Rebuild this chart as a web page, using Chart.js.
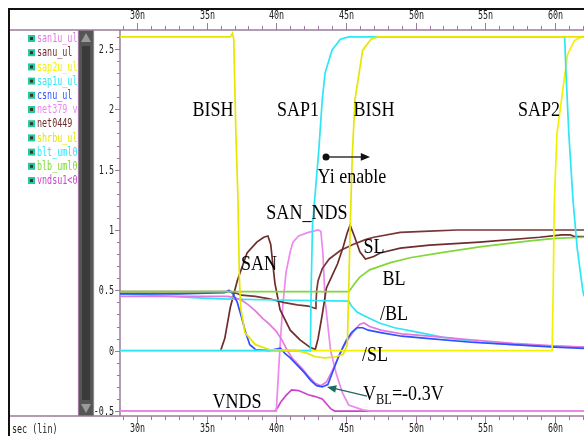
<!DOCTYPE html>
<html>
<head>
<meta charset="utf-8">
<title>Sense amp waveforms</title>
<script src="https://cdn.jsdelivr.net/npm/chart.js@4.4.1/dist/chart.umd.min.js"></script>
<style>
    html, body { margin: 0; padding: 0; background: #ffffff; }
    #wrap { width: 584px; height: 436px; }
</style>
</head>
<body>
<div id="wrap"><canvas id="wave" width="584" height="436"></canvas></div>
<script>
// ==================== DATA ====================

// time in ns, voltage in V
const bishWave = [[28.78, 2.6], [36.7, 2.6], [36.85, 2.63], [36.95, 2.58], [37.0, 2.3], [37.1, 1.8], [37.25, 1.25],
    [37.35, 0.6], [37.45, 0.35], [37.75, 0.15], [38.5, 0.05], [39.5, 0.01], [41.5, 0.0], [42.2, -0.02], [42.8, -0.05],
    [43.5, -0.06], [44.3, -0.05], [44.8, -0.03], [45.1, 0.05], [45.2, 0.5], [45.3, 1.0], [45.45, 1.6], [45.65, 2.08],
    [46.2, 2.49], [46.8, 2.58], [47.3, 2.6], [62.1, 2.6]];

const sap2Wave = [[28.78, 0], [59.8, 0], [59.88, 0.5], [59.95, 1.2], [60.15, 1.8], [60.5, 2.1], [60.9, 2.45],
    [61.4, 2.57], [61.9, 2.6], [62.1, 2.6]];

const sap1Wave = [[28.78, 0], [42.45, 0], [42.5, 0.5], [42.6, 1.04], [43.05, 1.66], [43.3, 2.08], [43.5, 2.3],
    [44.0, 2.49], [44.6, 2.58], [45.2, 2.6], [60.7, 2.6], [60.8, 2.3], [61.0, 1.8], [61.3, 1.25], [61.6, 0.85],
    [62.0, 0.5], [62.1, 0.45]];

const bltWave = [[28.78, 0.47], [31, 0.46], [34, 0.44], [36, 0.43], [40, 0.42], [45.2, 0.41], [45.4, 0.37],
    [45.8, 0.32], [46.3, 0.29], [47.4, 0.23], [48.5, 0.19], [50.3, 0.15], [52, 0.11], [54.6, 0.07], [57, 0.05],
    [59, 0.04], [62.1, 0.03]];

const blbWave = [[28.78, 0.49], [45.2, 0.49], [45.4, 0.52], [45.65, 0.56], [46.0, 0.61], [46.7, 0.67], [48.2, 0.73],
    [49.6, 0.77], [51.75, 0.81], [54.6, 0.86], [58.2, 0.91], [60, 0.93], [62.1, 0.94]];

const sanuWave = [[36.0, 0.0], [36.3, 0.1], [36.7, 0.36], [37.2, 0.58], [37.9, 0.81], [38.6, 0.9], [39.1, 0.94],
    [39.4, 0.95], [39.6, 0.88], [39.75, 0.72], [39.9, 0.56], [40.27, 0.34], [41.0, 0.17], [41.7, 0.09], [42.4, 0.03],
    [42.8, 0.01], [43.0, 0.1], [43.3, 0.3], [43.6, 0.52], [44.0, 0.62], [44.4, 0.72], [44.8, 0.86], [45.1, 0.98],
    [45.3, 1.04], [45.6, 0.95], [46.0, 0.82], [46.4, 0.76], [47.0, 0.78], [47.45, 0.81], [48.9, 0.85], [51, 0.875],
    [54.6, 0.9], [58.9, 0.94], [60.5, 0.96], [61.1, 0.96], [61.4, 0.945], [62.1, 0.945]];

const net0449Wave = [[28.78, 0.49], [36.8, 0.49], [37.5, 0.46], [38.5, 0.45], [39.5, 0.43], [40.5, 0.4], [41.5, 0.38],
    [42.3, 0.37], [42.8, 0.35], [42.85, 0.4], [42.9, 0.5], [43.0, 0.58], [43.3, 0.68], [43.8, 0.76], [44.6, 0.83],
    [45.5, 0.88], [46.4, 0.92], [47, 0.94], [48.9, 0.98], [51, 0.99], [53, 1.0], [62.1, 1.0]];

const net379Wave = [[28.78, -0.5], [40.0, -0.5], [40.1, -0.3], [40.25, 0.0], [40.45, 0.35], [40.7, 0.65], [41.0, 0.82],
    [41.2, 0.9], [41.6, 0.95], [42.3, 0.98], [43.0, 1.0], [43.2, 0.99], [43.35, 0.8], [43.5, 0.42], [43.9, 0.0],
    [44.3, -0.19], [44.75, -0.35], [45.2, -0.45], [46.2, -0.49], [46.8, -0.5], [62.1, -0.5]];

const san1uWave = [[28.78, 0.45], [36.5, 0.45], [37.0, 0.44], [37.5, 0.42], [38.0, 0.38], [38.5, 0.33], [39.0, 0.27],
    [39.5, 0.22], [40.0, 0.16], [40.4, 0.09], [40.8, 0.0], [41.2, -0.07], [41.8, -0.14], [42.3, -0.21], [42.8, -0.27],
    [43.2, -0.29], [43.6, -0.26], [44.0, -0.17], [44.4, -0.07], [44.8, 0.03], [45.2, 0.1], [45.6, 0.17], [46.0, 0.22],
    [46.3, 0.23], [46.7, 0.2], [47.5, 0.17], [49, 0.14], [51, 0.12], [54, 0.09], [57, 0.06], [60, 0.04], [62.1, 0.03]];

const csnuWave = [[28.78, 0.47], [33, 0.47], [36.3, 0.48], [36.6, 0.5], [36.9, 0.47], [37.2, 0.4], [37.5, 0.28],
    [37.8, 0.15], [38.1, 0.05], [38.5, 0.01], [39.5, 0.0], [40.3, 0.02], [40.6, -0.02], [41.0, -0.06], [41.5, -0.12],
    [42.0, -0.18], [42.5, -0.25], [42.9, -0.29], [43.3, -0.3], [43.7, -0.28], [44.1, -0.16], [44.5, -0.04],
    [45.0, 0.08], [45.4, 0.15], [45.8, 0.19], [46.2, 0.19], [46.6, 0.17], [47.5, 0.15], [49, 0.12], [51, 0.1],
    [54, 0.07], [57, 0.05], [60, 0.03], [62.1, 0.02]];

const vndsWave = [[28.78, -0.5], [39.9, -0.5], [40.1, -0.47], [40.35, -0.42], [40.7, -0.37], [41.1, -0.325],
    [41.6, -0.33], [42.3, -0.365], [42.8, -0.38], [43.3, -0.4], [43.6, -0.44], [43.9, -0.48], [44.2, -0.5], [62.1, -0.5]];

// signal list shown in the left panel
const signalNames = ['san1u_ul', 'sanu_ul \u2022', 'sap2u_ul', 'sap1u_ul', 'csnu_ul \u2022', 'net379 v',
    'net0449 \u2022', 'shrbu_ul', 'blt_uml0', 'blb_uml0', 'vndsu1<0>'];

const xMajorTicks = [30, 35, 40, 45, 50, 55, 60];
const yTickLabels = ['2.5', '2', '1.5', '1', '0.5', '0', '-0.5'];

// ==================== STYLE ====================

const signalColors = ['#e07ae0', '#6e2c2c', '#f2f200', '#2ee6f6', '#3050ff', '#ee88ee',
    '#6e2c2c', '#e6e600', '#2ee6f6', '#7fd838', '#cc44cc'];

const frameColor = '#9b7b9b';
const monoFont = '12px "DejaVu Sans Mono", "Liberation Mono", monospace';
const serifFont = '22px "Liberation Serif", "Times New Roman", serif';

// text notes, placed in data units (ns, V)
const notes = [
    { text: 'BISH', t: 35.46, v: 1.99 },
    { text: 'SAP1', t: 41.56, v: 1.99 },
    { text: 'BISH', t: 47.01, v: 1.99 },
    { text: 'SAP2', t: 58.86, v: 1.99 },
    { text: 'Yi enable', t: 45.43, v: 1.44 },
    { text: 'SAN_NDS', t: 42.2, v: 1.14 },
    { text: 'SAN', t: 38.76, v: 0.72 },
    { text: 'SL', t: 47.01, v: 0.86 },
    { text: 'BL', t: 48.45, v: 0.59 },
    { text: '/BL', t: 48.45, v: 0.30 },
    { text: '/SL', t: 47.09, v: -0.04 },
    { text: 'VNDS', t: 37.18, v: -0.43 }
];

// ==================== HELPERS ====================

function toPoints(wave) {
    return wave.map(p => ({ x: p[0], y: p[1] }));
}

function squeezedText(ctx, str, x, y, font, color, sx, align) {
    ctx.save();
    ctx.translate(x, y);
    ctx.scale(sx, 1);
    ctx.font = font;
    ctx.fillStyle = color;
    ctx.textAlign = align;
    ctx.textBaseline = 'middle';
    ctx.fillText(str, 0, 0);
    ctx.restore();
}

function arrowHead(ctx, x0, y0, x1, y1, size, color) {
    const a = Math.atan2(y1 - y0, x1 - x0);
    ctx.save();
    ctx.fillStyle = color;
    ctx.beginPath();
    ctx.moveTo(x1, y1);
    ctx.lineTo(x1 - size * Math.cos(a - 0.4), y1 - size * Math.sin(a - 0.4));
    ctx.lineTo(x1 - size * Math.cos(a + 0.4), y1 - size * Math.sin(a + 0.4));
    ctx.closePath();
    ctx.fill();
    ctx.restore();
}

// ==================== PLUGIN: WINDOW FRAME ====================

const framePlugin = {
    id: 'frame',
    beforeDraw(chart) {
        const ctx = chart.ctx;
        const area = chart.chartArea;
        ctx.save();
        ctx.fillStyle = '#ffffff';
        ctx.fillRect(0, 0, chart.width, chart.height);

        // outer black border
        ctx.fillStyle = '#111111';
        ctx.fillRect(8, 8, chart.width - 8, 2);
        ctx.fillRect(8, 8, 2, chart.height - 8);

        // signal list
        ctx.save();
        ctx.beginPath();
        ctx.rect(10, area.top, 68, area.bottom - area.top);
        ctx.clip();
        signalNames.forEach((name, i) => {
            const y = 39 + i * 14.2;
            ctx.fillStyle = '#22c8a8';
            ctx.fillRect(28, y - 4, 7, 7);
            ctx.fillStyle = '#3a3a10';
            ctx.fillRect(30, y - 2, 3, 3);
            squeezedText(ctx, name, 37, y, monoFont, signalColors[i], 0.7, 'left');
        });
        ctx.restore();

        // scroll bar
        ctx.fillStyle = '#555555';
        ctx.fillRect(78, area.top, 16, area.bottom - area.top);
        ctx.fillStyle = '#3a3a3a';
        ctx.fillRect(82, area.top + 16, 8, area.bottom - area.top - 32);
        ctx.strokeStyle = frameColor;
        ctx.lineWidth = 1.2;
        ctx.beginPath();
        ctx.moveTo(78.5, area.top); ctx.lineTo(78.5, area.bottom);
        ctx.moveTo(93.5, area.top); ctx.lineTo(93.5, area.bottom);
        ctx.stroke();
        ctx.fillStyle = '#9a9a9a';
        ctx.beginPath();
        ctx.moveTo(86, area.top + 3); ctx.lineTo(81, area.top + 12); ctx.lineTo(91, area.top + 12);
        ctx.closePath(); ctx.fill();
        ctx.beginPath();
        ctx.moveTo(86, area.bottom - 3); ctx.lineTo(81, area.bottom - 12); ctx.lineTo(91, area.bottom - 12);
        ctx.closePath(); ctx.fill();

        // panel separators
        ctx.strokeStyle = frameColor;
        ctx.lineWidth = 1.5;
        ctx.beginPath();
        ctx.moveTo(10, area.top); ctx.lineTo(chart.width, area.top);
        ctx.moveTo(10, area.bottom); ctx.lineTo(chart.width, area.bottom);
        ctx.moveTo(area.left, area.top); ctx.lineTo(area.left, area.bottom);
        ctx.stroke();
        ctx.restore();
    },
    afterDraw(chart) {
        const ctx = chart.ctx;
        const area = chart.chartArea;
        const xs = chart.scales.x;
        const ys = chart.scales.y;
        ctx.save();
        ctx.strokeStyle = frameColor;
        ctx.lineWidth = 1;

        // time ticks, top and bottom
        xs.ticks.forEach(tk => {
            const px = Math.round(xs.getPixelForValue(tk.value)) + 0.5;
            const major = xMajorTicks.includes(Math.round(tk.value));
            const len = major ? 7 : 4;
            ctx.beginPath();
            ctx.moveTo(px, area.top); ctx.lineTo(px, area.top - len);
            ctx.moveTo(px, area.bottom); ctx.lineTo(px, area.bottom + len);
            ctx.stroke();
            if (major) {
                const label = Math.round(tk.value) + 'n';
                squeezedText(ctx, label, px, 16, monoFont, '#222222', 0.7, 'center');
                squeezedText(ctx, label, px, 429, monoFont, '#222222', 0.7, 'center');
            }
        });

        // voltage ticks
        ys.ticks.forEach(tk => {
            const py = Math.round(ys.getPixelForValue(tk.value)) + 0.5;
            const r = Math.round(tk.value * 10);
            const major = r % 5 === 0;
            ctx.beginPath();
            ctx.moveTo(area.left, py); ctx.lineTo(area.left - (major ? 5 : 3), py);
            ctx.stroke();
            if (major) {
                const idx = Math.round((2.5 - r / 10) / 0.5);
                squeezedText(ctx, yTickLabels[idx], area.left - 6, py, monoFont, '#222222', 0.7, 'right');
            }
        });

        squeezedText(ctx, 'sec (lin)', 12, 430, monoFont, '#222222', 0.7, 'left');

        // text notes on the plot
        notes.forEach(n => {
            squeezedText(ctx, n.text, xs.getPixelForValue(n.t), ys.getPixelForValue(n.v), serifFont, '#000000', 0.82, 'center');
        });

        // Yi enable arrow
        const ax0 = xs.getPixelForValue(43.57), ax1 = xs.getPixelForValue(46.73), ay = ys.getPixelForValue(1.605);
        ctx.strokeStyle = '#333333';
        ctx.lineWidth = 1.6;
        ctx.beginPath();
        ctx.moveTo(ax0, ay); ctx.lineTo(ax1 - 6, ay);
        ctx.stroke();
        ctx.fillStyle = '#111111';
        ctx.beginPath();
        ctx.arc(ax0, ay, 3.5, 0, Math.PI * 2);
        ctx.fill();
        arrowHead(ctx, ax0, ay, ax1, ay, 10, '#111111');

        // V_BL label and arrow
        const vx = xs.getPixelForValue(46.22), vy = ys.getPixelForValue(-0.36);
        squeezedText(ctx, 'V', vx, vy, serifFont, '#000000', 0.82, 'left');
        squeezedText(ctx, 'BL', vx + 13, vy + 6, '15px "Liberation Serif", serif', '#000000', 0.82, 'left');
        squeezedText(ctx, '=-0.3V', vx + 29, vy, serifFont, '#000000', 0.82, 'left');
        const tx0 = xs.getPixelForValue(46.51), ty0 = ys.getPixelForValue(-0.376);
        const tx1 = xs.getPixelForValue(43.64), ty1 = ys.getPixelForValue(-0.30);
        ctx.strokeStyle = '#1d6b63';
        ctx.lineWidth = 1.4;
        ctx.beginPath();
        ctx.moveTo(tx0, ty0); ctx.lineTo(tx1 + 5, ty1 + 1);
        ctx.stroke();
        arrowHead(ctx, tx0, ty0, tx1, ty1, 10, '#1d6b63');
        ctx.restore();
    }
};

// ==================== CHART ====================

function makeSet(wave, color) {
    return {
        data: toPoints(wave),
        borderColor: color,
        borderWidth: 1.7,
        showLine: true,
        pointRadius: 0,
        tension: 0,
        fill: false
    };
}

// first entry is drawn on top
const datasets = [
    makeSet(bishWave, signalColors[7]),
    makeSet(sap1Wave, signalColors[3]),
    makeSet(sap2Wave, signalColors[2]),
    makeSet(blbWave, signalColors[9]),
    makeSet(csnuWave, signalColors[4]),
    makeSet(san1uWave, signalColors[0]),
    makeSet(bltWave, signalColors[8]),
    makeSet(sanuWave, signalColors[1]),
    makeSet(net0449Wave, '#7a3636'),
    makeSet(net379Wave, signalColors[5]),
    makeSet(vndsWave, signalColors[10])
];

const timeScale = (pos, h) => ({
    type: 'linear',
    position: pos,
    min: 28.78,
    max: 62.09,
    ticks: { stepSize: 1, display: false, includeBounds: false },
    grid: { display: false },
    border: { display: false },
    afterFit(scale) { scale.height = h; }
});

new Chart(document.getElementById('wave'), {
    type: 'scatter',
    data: { datasets: datasets },
    options: {
        responsive: false,
        animation: false,
        events: [],
        layout: { padding: { left: 90, top: 0, right: 0, bottom: 0 } },
        plugins: { legend: { display: false }, tooltip: { enabled: false } },
        scales: {
            x: timeScale('bottom', 20),
            x2: timeScale('top', 30),
            y: {
                type: 'linear',
                min: -0.541,
                max: 2.657,
                ticks: { stepSize: 0.1, display: false, includeBounds: false },
                grid: { display: false },
                border: { display: false },
                afterFit(scale) { scale.width = 30; }
            }
        }
    },
    plugins: [framePlugin]
});
</script>
</body>
</html>
